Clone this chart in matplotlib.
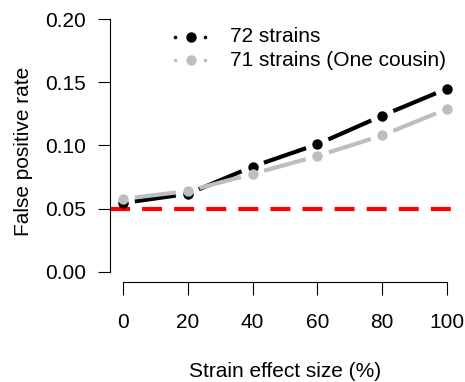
import matplotlib.pyplot as plt
import numpy as np

# strain effect size (%) and false positive rates
effect = [0, 20, 40, 60, 80, 100]
fpr_72 = [0.0545, 0.0617, 0.0833, 0.101, 0.1236, 0.145]
fpr_71 = [0.0577, 0.064, 0.0775, 0.0917, 0.108, 0.129]
nominal = 0.05
labels = ["72 strains", "71 strains (One cousin)"]
colors = ["black", "#bebebe"]
yticks = [0.00, 0.05, 0.10, 0.15, 0.20]
xticks = [0, 20, 40, 60, 80, 100]

plt.rcParams['font.family'] = ['Liberation Sans', 'DejaVu Sans']

W, H = 465, 382
fig = plt.figure(figsize=(W / 100, H / 100), dpi=100)
ax = fig.add_axes([110 / W, 1 - 282 / H, 350 / W, 273 / H])
ax.set_xlim(-4, 104)
ax.set_ylim(-0.008, 0.208)


def gapped(x, y, color, gap=12):
    # R type="b": line segments stop short of each point
    pts = ax.transData.transform(np.column_stack([x, y]))
    inv = ax.transData.inverted()
    for p, q in zip(pts[:-1], pts[1:]):
        d = q - p
        u = d / np.hypot(*d)
        a, b = inv.transform([p + u * gap, q - u * gap])
        ax.plot([a[0], b[0]], [a[1], b[1]], color=color, lw=3,
                solid_capstyle='butt')
    ax.plot(x, y, 'o', color=color, ms=7.5, mew=0, ls='none')


ax.axhline(nominal, color='red', lw=3, ls=(0, (4.8, 2.9)))
gapped(effect, fpr_72, colors[0])
gapped(effect, fpr_71, colors[1])

for s in ['top', 'right']:
    ax.spines[s].set_visible(False)
ax.spines['left'].set_bounds(0, 0.2)
ax.spines['bottom'].set_bounds(0, 100)
for s in ['left', 'bottom']:
    ax.spines[s].set_linewidth(0.8)

ax.set_yticks(yticks)
ax.set_yticklabels([f"{v:.2f}" for v in yticks])
ax.set_xticks(xticks)
ax.tick_params(axis='y', length=8.6, width=0.8, labelsize=15, pad=8.6)
ax.tick_params(axis='x', length=9.4, width=0.8, labelsize=15, pad=13)

ax.set_ylabel("False positive rate", fontsize=15)
ax.yaxis.set_label_coords(-0.22, 0.48)
ax.set_xlabel("Strain effect size (%)", fontsize=15)
ax.xaxis.label.set_va('baseline')
ax.xaxis.set_label_coords(0.5, -0.348)

# legend drawn by hand, keys like R type="b": small line ends round a big point
tf = fig.transFigure
for i, (c, lab) in enumerate(zip(colors, labels)):
    yy = 1 - (37 + 23 * i) / H
    fig.lines.append(plt.Line2D([175 / W, 205 / W], [yy, yy], transform=tf,
                                color=c, marker='o', ms=2.6, mew=0, ls='none'))
    fig.lines.append(plt.Line2D([191 / W], [yy], transform=tf, color=c,
                                marker='o', ms=7.5, mew=0, ls='none'))
    fig.text(230 / W, yy, lab, fontsize=15, va='center', ha='left')

fig.savefig("out.png", dpi=100)
